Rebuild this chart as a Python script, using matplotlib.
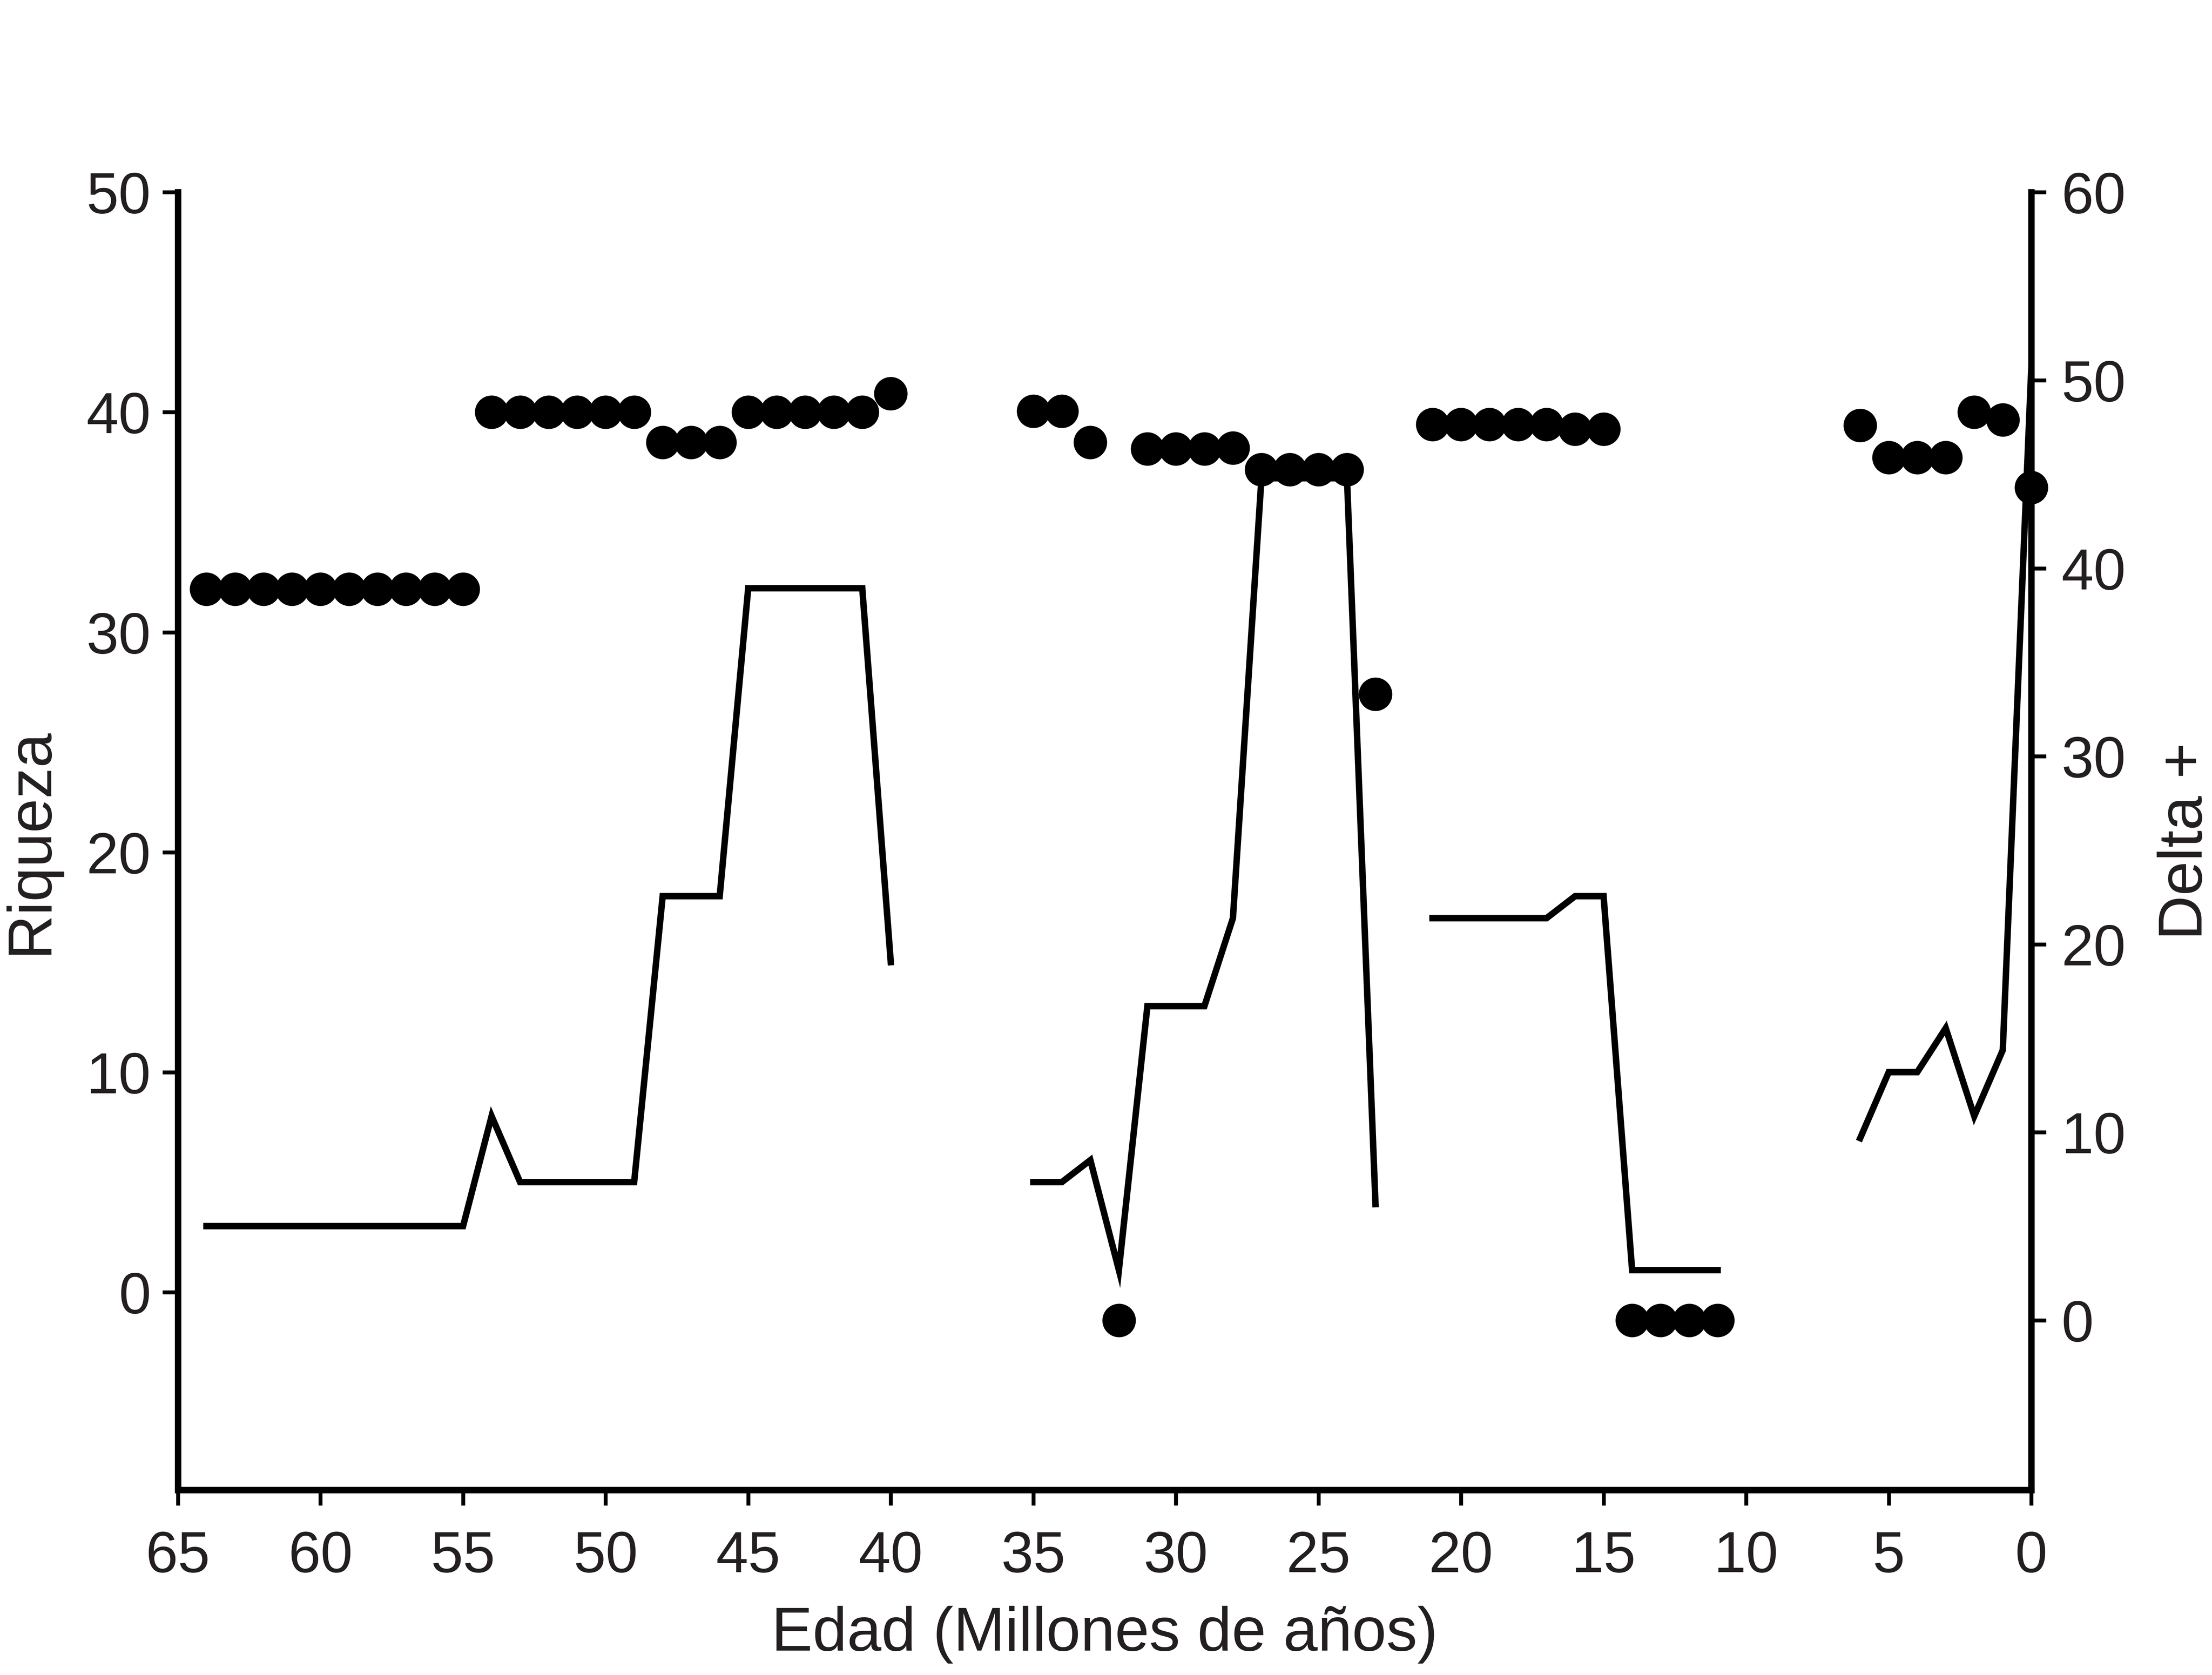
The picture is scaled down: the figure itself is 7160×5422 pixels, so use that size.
import numpy as np
import matplotlib
matplotlib.use("Agg")
import matplotlib.pyplot as plt

plt.rcParams['font.family'] = ['Liberation Sans', 'DejaVu Sans']

# edad en millones de años (64 -> 0)
edad = np.arange(64, -1, -1)

nan = np.nan
# riqueza (linea, eje izquierdo)
riqueza = [3, 3, 3, 3, 3, 3, 3, 3, 3, 3,      # 64-55
           8, 5, 5, 5, 5, 5,                  # 54-49
           18, 18, 18,                        # 48-46
           32, 32, 32, 32, 32,                # 45-41
           15,                                # 40
           nan, nan, nan, nan,                # 39-36
           5, 5, 6, 1,                        # 35-32
           13, 13, 13, 17,                    # 31-28
           37, 37, 37, 37,                    # 27-24
           4, nan,                            # 23-22
           17, 17, 17, 17, 17,                # 21-17
           18, 18,                            # 16-15
           1, 1, 1, 1,                        # 14-11
           nan, nan, nan, nan,                # 10-7
           7, 10, 10, 12, 8, 11, 42]          # 6-0

# delta + (puntos, eje derecho)
delta = [38.9] * 10 + \
        [48.3] * 6 + \
        [46.7] * 3 + \
        [48.3] * 5 + \
        [49.3] + \
        [nan] * 4 + \
        [48.35, 48.35, 46.7, 0] + \
        [46.35, 46.35, 46.35, 46.4] + \
        [45.25] * 4 + \
        [33.3, nan] + \
        [47.65] * 5 + \
        [47.4, 47.4] + \
        [0, 0, 0, 0] + \
        [nan] * 4 + \
        [47.6, 45.9, 45.9, 45.9, 48.3, 47.9, 44.3]

txt = '#231f20'
fs_tick = 45
fs_lab = 48
fig = plt.figure(figsize=(7160 / 300, 5422 / 300), dpi=300)
ax = fig.add_axes([0.08045, 0.1104, 0.9183 - 0.08045, 0.8852 - 0.1104])
ax2 = ax.twinx()

ax.plot(edad, riqueza, color='black', lw=5.0, solid_joinstyle='miter')
ax2.plot(edad, delta, 'o', color='black', markersize=26, markeredgewidth=0,
         clip_on=False)

ax.set_xlim(65, 0)
ax.set_ylim(-9, 50)
ax2.set_ylim(-9.03, 60)
ax.set_xticks(range(65, -1, -5))
ax.set_yticks(range(0, 51, 10))
ax2.set_yticks(range(0, 61, 10))

for a in (ax, ax2):
    a.spines['top'].set_visible(False)
    for s in a.spines.values():
        s.set_linewidth(5.0)
ax.spines['right'].set_visible(False)
ax2.spines['left'].set_visible(False)
ax2.spines['bottom'].set_visible(False)

ax.tick_params(axis='y', direction='out', length=12, width=3, pad=9,
               labelsize=fs_tick, labelcolor=txt)
ax.tick_params(axis='x', direction='out', length=12, width=3, pad=19,
               labelsize=fs_tick, labelcolor=txt)
ax2.tick_params(axis='y', direction='out', length=11.5, width=3, pad=12,
                labelsize=fs_tick, labelcolor=txt)

ax.set_xlabel('Edad (Millones de años)', fontsize=fs_lab, color=txt, labelpad=17)
ax.set_ylabel('Riqueza', fontsize=fs_lab, color=txt, labelpad=21)
ax2.set_ylabel('Delta +', fontsize=fs_lab, color=txt, labelpad=24)

fig.savefig('out.png', dpi=300, facecolor='white')
